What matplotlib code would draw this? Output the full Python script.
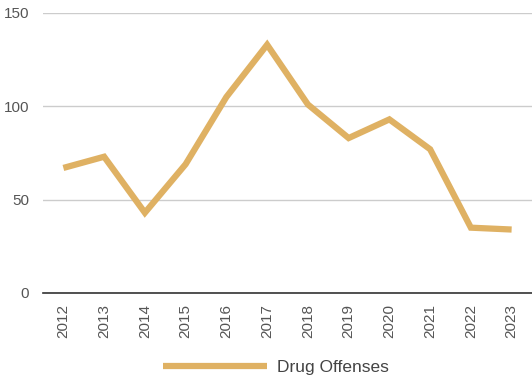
import matplotlib
matplotlib.use("Agg")
import matplotlib.pyplot as plt

years = ["2012", "2013", "2014", "2015", "2016", "2017", "2018", "2019", "2020", "2021", "2022", "2023"]
drug_offenses = [67, 73, 43, 69, 105, 133, 101, 83, 93, 77, 35, 34]
y_ticks = [0, 50, 100, 150]

plt.rcParams["font.family"] = ["Liberation Sans", "DejaVu Sans"]

fig = plt.figure(figsize=(5.32, 3.79), dpi=100)
ax = fig.add_axes([43 / 532, 1 - 293 / 379, (532 - 43) / 532, 280 / 379])

x = list(range(len(years)))
ax.plot(x, drug_offenses, color="#dfb163", linewidth=4.5, solid_joinstyle="miter",
        solid_capstyle="butt", label="Drug Offenses", zorder=3)

ax.set_xlim(-0.5, len(years) - 0.5)
ax.set_ylim(0, 150)
ax.set_yticks(y_ticks)
ax.set_xticks(x)
ax.set_xticklabels(years, rotation=90)
ax.grid(axis="y", color="#cccccc", linewidth=1)
ax.set_axisbelow(True)
for side in ["top", "right", "left"]:
    ax.spines[side].set_visible(False)
ax.spines["bottom"].set_color("#333333")
ax.spines["bottom"].set_linewidth(1.2)
ax.tick_params(axis="both", length=0, labelsize=11, colors="#555555")
ax.tick_params(axis="y", pad=10)
ax.tick_params(axis="x", pad=8)

leg = fig.legend(loc="center", bbox_to_anchor=(276 / 532, 1 - 367 / 379), frameon=False,
                 handlelength=6.0, fontsize=12.5, labelcolor="#444444", handletextpad=0.55)

fig.savefig("out.png", dpi=100)
